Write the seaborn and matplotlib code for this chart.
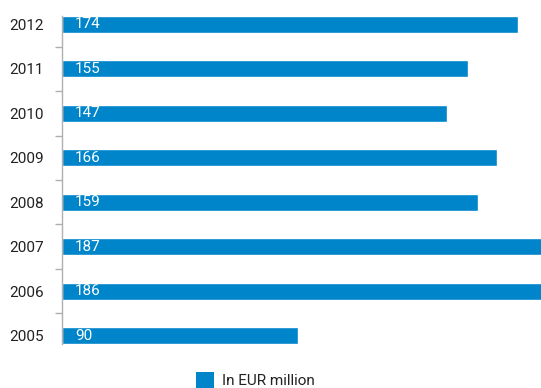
import matplotlib
matplotlib.use("Agg")
import matplotlib.pyplot as plt
from matplotlib.patches import Patch
from matplotlib.ticker import FixedLocator
import seaborn as sns
import pandas as pd

years = ["2012", "2011", "2010", "2009", "2008", "2007", "2006", "2005"]
values = [174, 155, 147, 166, 159, 187, 186, 90]
legend_label = "In EUR million"

BLUE = "#0085CA"
TEXT = "#222222"
AXIS = "#b0b0b0"

sns.set_theme(style="white")
plt.rcParams["font.family"] = ["Roboto", "DejaVu Sans"]

df = pd.DataFrame({"year": years, "value": values})

fig = plt.figure(figsize=(5.41, 3.88), dpi=100)
ax = fig.add_axes([62 / 541, 44 / 388, 479 / 541, 328 / 388])

sns.barplot(data=df, x="value", y="year", order=years, orient="h",
            color=BLUE, saturation=1, width=0.38, ax=ax)

ax.set_xlim(0, 182.9)
ax.set_ylim(len(years) - 1 + 0.19, -0.19)

# value labels inside the bars, near the baseline
for i, v in enumerate(values):
    ax.annotate(str(v), xy=(0, i), xytext=(9.5, 0), textcoords="offset points",
                ha="left", va="center", color="white", fontsize=11)

ax.set_xlabel("")
ax.set_ylabel("")
ax.set_xticks([])
ax.tick_params(axis="y", which="major", length=0, pad=13, labelsize=11,
               labelcolor=TEXT)
ax.yaxis.set_minor_locator(FixedLocator([i + 0.5 for i in range(len(years) - 1)]))
ax.tick_params(axis="y", which="minor", length=5, width=1, color=AXIS, left=True)

for s in ["top", "right", "bottom"]:
    ax.spines[s].set_visible(False)
ax.spines["left"].set_color(AXIS)
ax.spines["left"].set_linewidth(1)

fig.legend(handles=[Patch(facecolor=BLUE, edgecolor="none", label=legend_label)],
           loc="lower center", bbox_to_anchor=(0.472, -0.035), frameon=False,
           fontsize=11, handlelength=1.2, handleheight=1.2, handletextpad=0.5,
           labelcolor=TEXT)

fig.savefig("out.png", dpi=100)
